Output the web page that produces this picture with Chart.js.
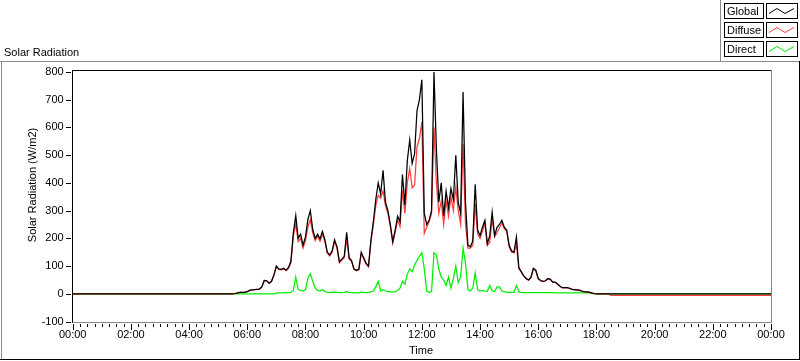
<!DOCTYPE html>
<html><head><meta charset="utf-8">
<script src="https://cdn.jsdelivr.net/npm/chart.js@4.4.1/dist/chart.umd.min.js"></script>
<style>html,body{margin:0;padding:0;background:#fff;}canvas{display:block}</style>
</head><body>
<canvas id="c" width="800" height="361"></canvas>
<script>
// ---- data (W/m2), one value every 5 minutes from 05:30 to 18:30 ----
const seriesNames = ['Global', 'Diffuse', 'Direct'];
const startMinute = 330;      // 05:30
const stepMinutes = 5;
const globalW = [
  0,1,3,5,5,6, 8,12,14,15,16,17, 25,48,47,38,45,68,
  100,90,88,92,85,95, 118,220,282,200,215,175,
  205,268,300,232,200,215, 198,225,195,150,140,155,
  195,170,115,125,135,222, 130,120,90,85,88,150,
  130,110,100,195,260,340, 400,360,445,330,300,250,
  188,230,280,260,430,320, 480,555,470,505,660,700,
  772,290,250,265,300,800, 520,330,400,280,370,310,
  380,340,500,330,290,728, 330,175,170,190,395,230,
  210,240,265,180,210,295, 210,240,250,265,240,230,
  175,155,150,205,95,80, 65,55,50,60,92,85,
  55,48,45,47,55,52, 42,42,35,27,22,22,
  22,20,16,15,14,13, 10,8,7,6,3,1,
  0,0,0,0,0,0, 0
];
const diffuseW = [
  0,1,3,5,5,6, 8,12,14,15,16,17, 25,48,47,38,45,68,
  98,88,86,90,83,92, 112,208,252,188,200,165,
  192,240,268,220,192,208, 190,215,188,146,136,150,
  188,165,112,122,130,200, 126,117,88,83,86,145,
  126,107,97,185,248,318, 355,345,372,318,290,242,
  182,222,266,242,372,290, 400,452,382,392,530,560,
  620,218,240,260,290,600, 400,290,335,250,335,280,
  350,300,385,300,250,540, 252,165,165,175,325,215,
  200,225,255,175,185,270, 205,220,238,255,235,225,
  170,150,148,178,90,78, 63,54,49,58,90,83,
  54,47,44,46,54,51, 41,41,34,26,21,21,
  21,19,15,14,13,12, 9,7,6,5,2,1,
  0,0,0,0,0,0, -6
];
const directW = [
  0,0,0,0,0,0, 0,0,0,0,0,0, 0,0,0,0,0,0,
  2,3,3,3,4,4, 5,12,60,15,12,10,
  15,55,72,45,20,12, 10,15,8,5,4,5,
  6,5,4,4,5,8, 5,4,3,3,3,6,
  5,4,4,8,10,25, 45,10,15,10,8,8,
  6,8,12,20,45,35, 70,90,80,105,120,135,
  148,90,10,5,8,148, 140,90,60,50,30,60,
  20,55,100,40,60,165, 110,15,10,20,75,15,
  10,12,10,8,30,10, 8,25,25,10,8,5,
  5,5,5,30,8,4, 4,4,4,4,4,4,
  4,4,4,4,4,4, 4,3,3,3,3,3,
  3,3,3,3,3,3, 3,3,3,3,2,0,
  0,0,0,0,0,0, 0
];
const dayStartValues = [0, 0, 0];     // 00:00
const dayEndValues = [0, -6, 0];      // 24:00
const xTickLabels = ['00:00','02:00','04:00','06:00','08:00','10:00','12:00','14:00','16:00','18:00','20:00','22:00','00:00'];
const yTicks = { min: -100, max: 800, step: 100 };
const colors = ['#000000', '#ff3c3c', '#00ee00'];

function toPoints(values, idx) {
  const pts = [{ x: 0, y: dayStartValues[idx] }];
  values.forEach((v, i) => pts.push({ x: startMinute + i * stepMinutes, y: v }));
  pts.push({ x: 1440, y: dayEndValues[idx] });
  return pts;
}

const FONT = '11px "Liberation Sans", Arial, sans-serif';
const GREY = '#8a8a8a';

function hline(ctx, x1, x2, y, c) { ctx.strokeStyle = c; ctx.beginPath(); ctx.moveTo(x1, y); ctx.lineTo(x2, y); ctx.stroke(); }
function vline(ctx, x, y1, y2, c) { ctx.strokeStyle = c; ctx.beginPath(); ctx.moveTo(x, y1); ctx.lineTo(x, y2); ctx.stroke(); }

const decor = {
  id: 'decor',
  afterDraw(chart) {
    const { ctx, chartArea: a, scales: { x, y } } = chart;
    ctx.save();
    ctx.lineWidth = 1;
    // outer frame
    hline(ctx, 0, 800, 61.5, GREY);
    vline(ctx, 1.5, 61, 360, GREY);
    hline(ctx, 0, 800, 359.5, '#000');
    vline(ctx, 799.5, 61, 360, '#000');
    // legend panel border
    vline(ctx, 720.5, 0, 62, GREY);
    // plot frame
    const L = Math.round(a.left) - 0.5, R = Math.round(a.right) + 0.5;
    hline(ctx, L, R, 70.5, '#000');
    vline(ctx, L, 70, 323, '#000');
    vline(ctx, R, 70, 323, GREY);
    hline(ctx, L, R + 0.5, 322.5, GREY);
    // x ticks every 15 min
    for (let m = 0; m <= 1440; m += 15) {
      const px = Math.round(x.getPixelForValue(m)) + 0.5;
      const major = m % 120 === 0;
      vline(ctx, px, 324, major ? 330 : 327, '#000');
    }
    // y ticks
    for (let v = yTicks.min; v <= yTicks.max; v += yTicks.step) {
      const py = Math.round(y.getPixelForValue(v)) + 0.5;
      hline(ctx, 66, 71, py, '#000');
    }
    // texts
    ctx.fillStyle = '#000';
    ctx.font = FONT;
    ctx.textAlign = 'left'; ctx.textBaseline = 'alphabetic';
    ctx.fillText('Solar Radiation', 4, 56);
    ctx.textAlign = 'center'; ctx.textBaseline = 'middle';
    ctx.fillText('Time', 421, 351);
    ctx.save();
    ctx.translate(33, 185); ctx.rotate(-Math.PI / 2);
    ctx.fillText('Solar Radiation (W/m2)', 0, 0);
    ctx.restore();
    // legend
    const tops = [3.5, 22.5, 41.5];
    seriesNames.forEach((name, i) => {
      const t = tops[i];
      ctx.strokeStyle = '#000';
      ctx.strokeRect(724.5, t, 39, 15);
      ctx.strokeRect(766.5, t, 31, 15);
      ctx.textAlign = 'left'; ctx.textBaseline = 'middle';
      ctx.fillStyle = '#000';
      ctx.fillText(name, 727, t + 8);
      ctx.strokeStyle = colors[i];
      ctx.beginPath();
      ctx.moveTo(769, t + 10); ctx.lineTo(777, t + 5); ctx.lineTo(785, t + 10); ctx.lineTo(794, t + 5);
      ctx.stroke();
    });
    ctx.restore();
  }
};

const datasets = [globalW, diffuseW, directW].map((vals, i) => ({
  label: seriesNames[i],
  data: toPoints(vals, i),
  borderColor: colors[i],
  borderWidth: 1.25,
  pointRadius: 0,
  tension: 0,
  fill: false
}));

new Chart(document.getElementById('c'), {
  type: 'line',
  data: { datasets },
  options: {
    responsive: false,
    animation: false,
    devicePixelRatio: 1,
    parsing: false,
    layout: { padding: { top: 72, right: 29, left: 0, bottom: 0 } },
    plugins: { legend: { display: false }, title: { display: false }, tooltip: { enabled: false } },
    scales: {
      x: {
        type: 'linear', min: 0, max: 1440,
        afterBuildTicks: s => { s.ticks = xTickLabels.map((_, i) => ({ value: i * 120 })); },
        ticks: { callback: (v) => xTickLabels[Math.round(v / 120)], maxRotation: 0, autoSkip: false, padding: 7,
                 color: '#000', font: { family: '"Liberation Sans", Arial, sans-serif', size: 11 } },
        grid: { display: false, drawTicks: false },
        border: { display: false },
        afterFit: s => { s.height = 39.5; }
      },
      y: {
        type: 'linear', min: yTicks.min, max: yTicks.max,
        ticks: { stepSize: yTicks.step, padding: 9, color: '#000',
                 font: { family: '"Liberation Sans", Arial, sans-serif', size: 11 } },
        grid: { display: false, drawTicks: false },
        border: { display: false },
        afterFit: s => { s.width = 72.7; }
      }
    }
  },
  plugins: [decor]
});
</script>
</body></html>
